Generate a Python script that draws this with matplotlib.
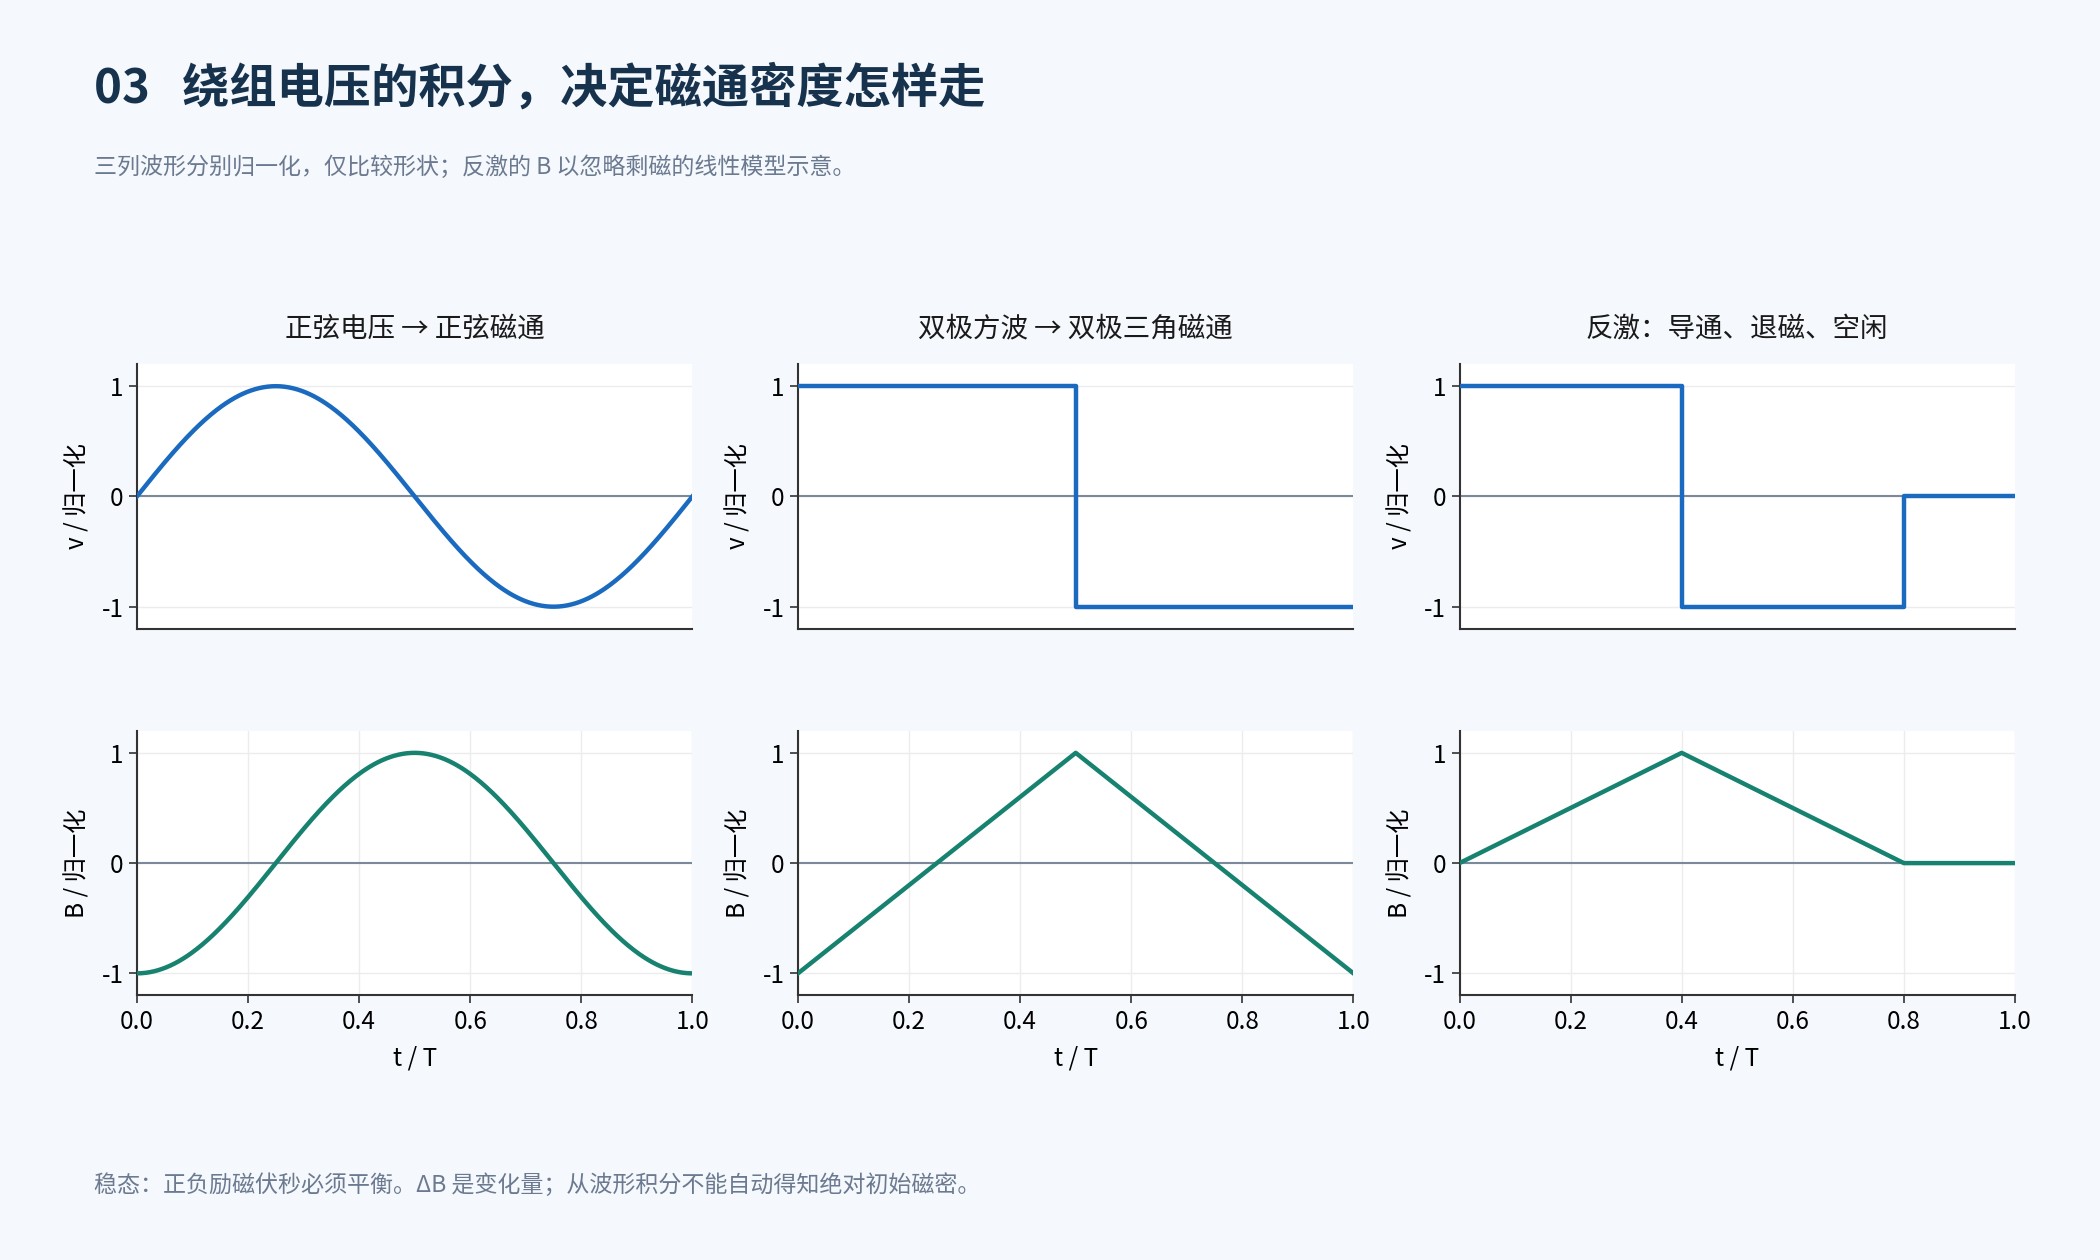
"""Winding voltage vs flux density, three normalised waveform pairs."""
import numpy as np
import matplotlib
matplotlib.use("Agg")
import matplotlib.pyplot as plt

plt.rcParams['font.family'] = ['Noto Sans CJK SC', 'DejaVu Sans']
plt.rcParams['axes.unicode_minus'] = False

# ---- data ----
titles = ["正弦电压 → 正弦磁通", "双极方波 → 双极三角磁通", "反激：导通、退磁、空闲"]

# sine column: one period, unit amplitude
sine_amp = 1.0
sine_cycles = 1.0
t_sine = np.linspace(0, 1, 400)

# bipolar square wave and its triangular flux
sq_t = [0.0, 0.5, 0.5, 1.0]
sq_v = [1, 1, -1, -1]
tri_t = [0.0, 0.5, 1.0]
tri_b = [-1, 1, -1]

# flyback: on, reset, idle
fb_t = [0.0, 0.4, 0.4, 0.8, 0.8, 1.0]
fb_v = [1, 1, -1, -1, 0, 0]
fb_bt = [0.0, 0.4, 0.8, 1.0]
fb_b = [0, 1, 0, 0]

xticks = [0.0, 0.2, 0.4, 0.6, 0.8, 1.0]
yticks = [-1, 0, 1]

BLUE = "#1a6bbf"
GREEN = "#16826f"
BG = "#f5f8fc"

volt = [
    (t_sine, sine_amp * np.sin(2 * np.pi * sine_cycles * t_sine)),
    (sq_t, sq_v),
    (fb_t, fb_v),
]
flux = [
    (t_sine, -sine_amp * np.cos(2 * np.pi * sine_cycles * t_sine)),
    (tri_t, tri_b),
    (fb_bt, fb_b),
]

fig = plt.figure(figsize=(21, 12.6), dpi=100, facecolor=BG)

lefts = [0.0652, 0.380, 0.695]
w = 0.2645


def style(ax, bottom_row):
    ax.set_facecolor("white")
    ax.set_xlim(0, 1)
    ax.set_ylim(-1.2, 1.2)
    for s in ("top", "right"):
        ax.spines[s].set_visible(False)
    for s in ("left", "bottom"):
        ax.spines[s].set_color("#333333")
        ax.spines[s].set_linewidth(1.5)
    ax.set_yticks(yticks)
    ax.set_yticklabels([str(y) for y in yticks])
    ax.grid(True, color="#ececec", linewidth=1.0)
    ax.set_axisbelow(True)
    ax.axhline(0, color="#7a8a9a", linewidth=1.5, zorder=1)
    ax.tick_params(labelsize=17.5, color="#333333", length=6, width=1.2)
    if bottom_row:
        ax.set_xticks(xticks)
        ax.set_xticklabels([f"{x:.1f}" for x in xticks])
        ax.set_xlabel("t / T", fontsize=17.5, labelpad=8)
    else:
        ax.set_xticks([])


for i in range(3):
    ax = fig.add_axes([lefts[i], 0.501, w, 0.210])
    style(ax, False)
    ax.plot(*volt[i], color=BLUE, linewidth=3.2, zorder=3)
    ax.set_ylabel("v / 归一化", fontsize=17.5, labelpad=8)
    ax.set_title(titles[i], fontsize=19.8, color="#1a1a1a", pad=20)

    ax = fig.add_axes([lefts[i], 0.210, w, 0.210])
    style(ax, True)
    ax.plot(*flux[i], color=GREEN, linewidth=3.2, zorder=3)
    ax.set_ylabel("B / 归一化", fontsize=17.5, labelpad=8)

fig.text(0.0448, 0.930, "03   绕组电压的积分，决定磁通密度怎样走",
         fontsize=34, fontweight="bold", color="#17324d", va="center")
fig.text(0.0448, 0.867, "三列波形分别归一化，仅比较形状；反激的 B 以忽略剩磁的线性模型示意。",
         fontsize=16.6, color="#6b7a90", va="center")
fig.text(0.0448, 0.0595, "稳态：正负励磁伏秒必须平衡。ΔB 是变化量；从波形积分不能自动得知绝对初始磁密。",
         fontsize=16.6, color="#6b7a90", va="center")

fig.savefig("out.png", dpi=100, facecolor=BG)
